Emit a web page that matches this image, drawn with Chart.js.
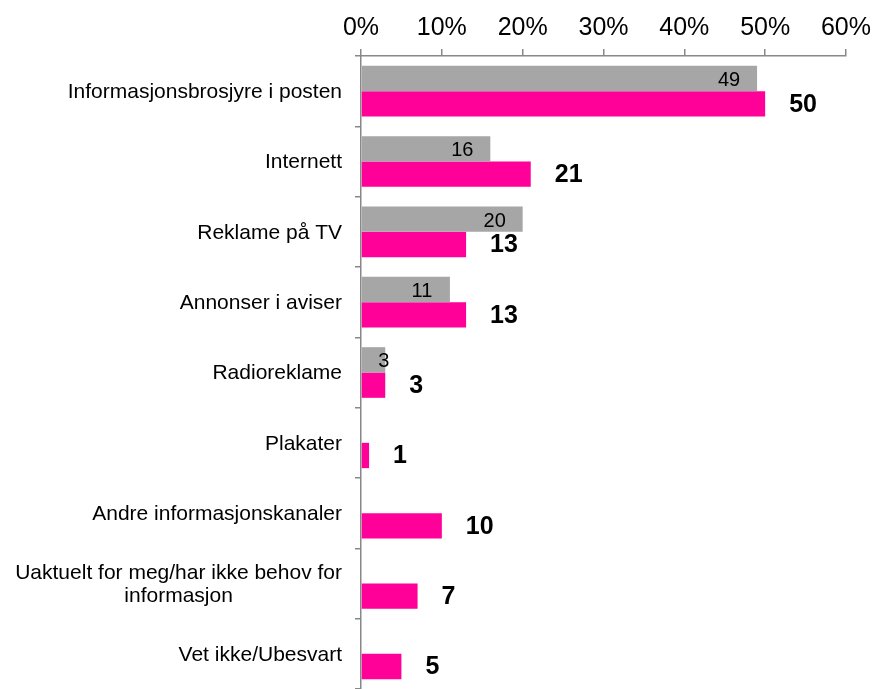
<!DOCTYPE html>
<html>
<head>
<meta charset="utf-8">
<script src="https://cdn.jsdelivr.net/npm/chart.js@4"></script>
<style>
  body { margin: 0; background: #fff; }
</style>
</head>
<body>
<canvas id="chart" width="877" height="689"></canvas>
<script>
const categories = [
    'Informasjonsbrosjyre i posten',
    'Internett',
    'Reklame på TV',
    'Annonser i aviser',
    'Radioreklame',
    'Plakater',
    'Andre informasjonskanaler',
    ['Uaktuelt for meg/har ikke behov for', 'informasjon'],
    'Vet ikke/Ubesvart'
];
const grayValues = [49, 16, 20, 11, 3, null, null, null, null];
const pinkValues = [50, 21, 13, 13, 3, 1, 10, 7, 5];
const axisMin = 0;
const axisMax = 60;
const axisStep = 10;

const FONT = "'Liberation Sans', Arial, sans-serif";
const AXIS_COLOR = '#888888';

// category labels drawn by hand so the two-line label is centred like the original
const categoryLabels = {
    id: 'categoryLabels',
    afterDraw(chart) {
        const ctx = chart.ctx;
        const yScale = chart.scales.y;
        const right = chart.chartArea.left - 19;
        const lineHeight = 23.5;
        ctx.save();
        ctx.font = '21px ' + FONT;
        ctx.fillStyle = '#000';
        ctx.textAlign = 'center';
        ctx.textBaseline = 'middle';
        categories.forEach((label, i) => {
            const lines = Array.isArray(label) ? label : [label];
            const maxW = Math.max(...lines.map(l => ctx.measureText(l).width));
            const cx = right - maxW / 2;
            const cy = yScale.getPixelForValue(i) + 1;
            lines.forEach((line, k) => {
                ctx.fillText(line, cx, cy + (k - (lines.length - 1) / 2) * lineHeight);
            });
        });
        ctx.restore();
    }
};

// value labels: gray inside the bar end, pink bold outside
const valueLabels = {
    id: 'valueLabels',
    afterDatasetsDraw(chart) {
        const ctx = chart.ctx;
        ctx.save();
        ctx.fillStyle = '#000';
        ctx.textBaseline = 'middle';

        const grayMeta = chart.getDatasetMeta(0);
        ctx.font = '20px ' + FONT;
        ctx.textAlign = 'center';
        grayMeta.data.forEach((bar, i) => {
            const v = grayValues[i];
            if (v === null) return;
            const x = Math.max(bar.x - 28, bar.base + 22);
            ctx.fillText(String(v), x, bar.y + 2);
        });

        const pinkMeta = chart.getDatasetMeta(1);
        ctx.font = 'bold 25px ' + FONT;
        ctx.textAlign = 'left';
        pinkMeta.data.forEach((bar, i) => {
            const v = pinkValues[i];
            if (v === null) return;
            ctx.fillText(String(v), bar.x + 24, bar.y + 1);
        });
        ctx.restore();
    }
};

const ctx = document.getElementById('chart').getContext('2d');
new Chart(ctx, {
    type: 'bar',
    data: {
        labels: categories,
        datasets: [
            {
                label: 'Gray',
                data: grayValues,
                backgroundColor: '#A6A6A6',
                categoryPercentage: 0.72,
                barPercentage: 1.0
            },
            {
                label: 'Pink',
                data: pinkValues,
                backgroundColor: '#FF0099',
                categoryPercentage: 0.72,
                barPercentage: 1.0
            }
        ]
    },
    options: {
        responsive: false,
        animation: false,
        indexAxis: 'y',
        layout: { padding: { top: 0, right: 29, bottom: 0, left: 0 } },
        scales: {
            x: {
                position: 'top',
                min: axisMin,
                max: axisMax,
                afterFit: scale => { scale.height = 56; },
                ticks: {
                    stepSize: axisStep,
                    callback: v => v + '%',
                    color: '#000',
                    font: { family: FONT, size: 25 },
                    padding: 6,
                    maxRotation: 0
                },
                grid: {
                    drawOnChartArea: false,
                    tickLength: 7,
                    color: AXIS_COLOR,
                    lineWidth: 1.5
                },
                border: { color: AXIS_COLOR, width: 1.5 }
            },
            y: {
                offset: true,
                afterFit: scale => { scale.width = 361; },
                ticks: { display: false },
                grid: {
                    offset: true,
                    drawOnChartArea: false,
                    tickLength: 6,
                    color: AXIS_COLOR,
                    lineWidth: 1.5
                },
                border: { color: AXIS_COLOR, width: 1.5 }
            }
        },
        plugins: {
            legend: { display: false },
            tooltip: { enabled: false }
        }
    },
    plugins: [categoryLabels, valueLabels]
});
</script>
</body>
</html>
